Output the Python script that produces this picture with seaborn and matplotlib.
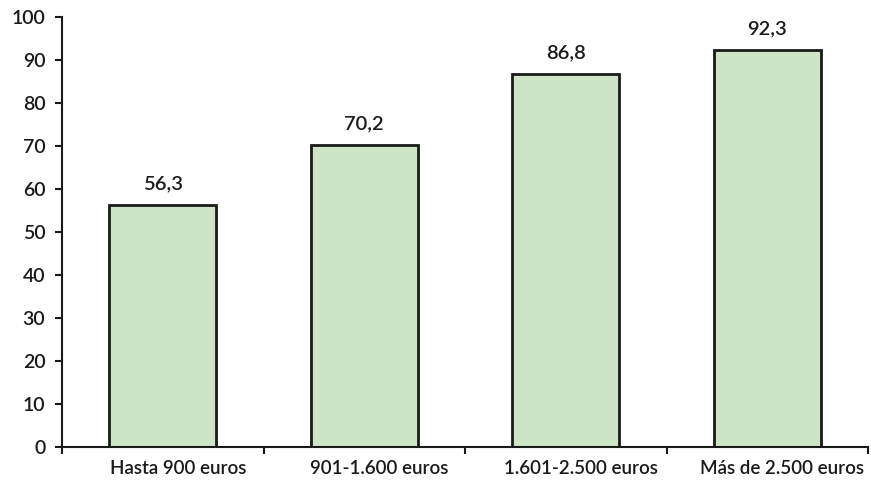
import matplotlib
matplotlib.use("Agg")
import matplotlib.pyplot as plt
import matplotlib.transforms as mtransforms
import seaborn as sns
import pandas as pd
import numpy as np

categories = ["Hasta 900 euros", "901-1.600 euros", "1.601-2.500 euros", "Más de 2.500 euros"]
values = [56.3, 70.2, 86.8, 92.3]

sns.set_style("white")
plt.rcParams["font.family"] = ["Lato", "DejaVu Sans"]
plt.rcParams["font.weight"] = "semibold"

df = pd.DataFrame({"cat": categories, "val": values})

fig = plt.figure(figsize=(8.71, 4.88), dpi=100)
ax = fig.add_axes([0.0712, 0.084, 0.9254, 0.881])

sns.barplot(data=df, x="cat", y="val", color="#CDE5C5", edgecolor="#1a1a1a",
            linewidth=2, width=0.53, saturation=1, ax=ax)

for i, v in enumerate(values):
    ax.text(i, v + 3, f"{v:.1f}".replace(".", ","), ha="center", va="bottom",
            fontsize=14.5, color="#1a1a1a")

ax.set_ylim(0, 100)
ax.set_xlim(-0.5, 3.5)
ax.set_yticks(np.arange(0, 101, 10))
ax.set_xlabel("")
ax.set_ylabel("")

for s in ["top", "right"]:
    ax.spines[s].set_visible(False)
for s in ["left", "bottom"]:
    ax.spines[s].set_color("#1a1a1a")
    ax.spines[s].set_linewidth(1.5)

ax.tick_params(axis="y", length=5, width=1.5, color="#1a1a1a", labelsize=14,
               labelcolor="#1a1a1a", pad=7, left=True)
ax.tick_params(axis="x", which="major", length=0, labelsize=13.5, labelcolor="#1a1a1a", pad=9)
ax.set_xticks(np.arange(-0.5, 4, 1), minor=True)
ax.tick_params(axis="x", which="minor", length=5, width=1.5, color="#1a1a1a", bottom=True)

shift = mtransforms.ScaledTranslation(0.15, 0, fig.dpi_scale_trans)
for lbl in ax.get_xticklabels():
    lbl.set_transform(lbl.get_transform() + shift)

plt.savefig("out.png", dpi=100)
